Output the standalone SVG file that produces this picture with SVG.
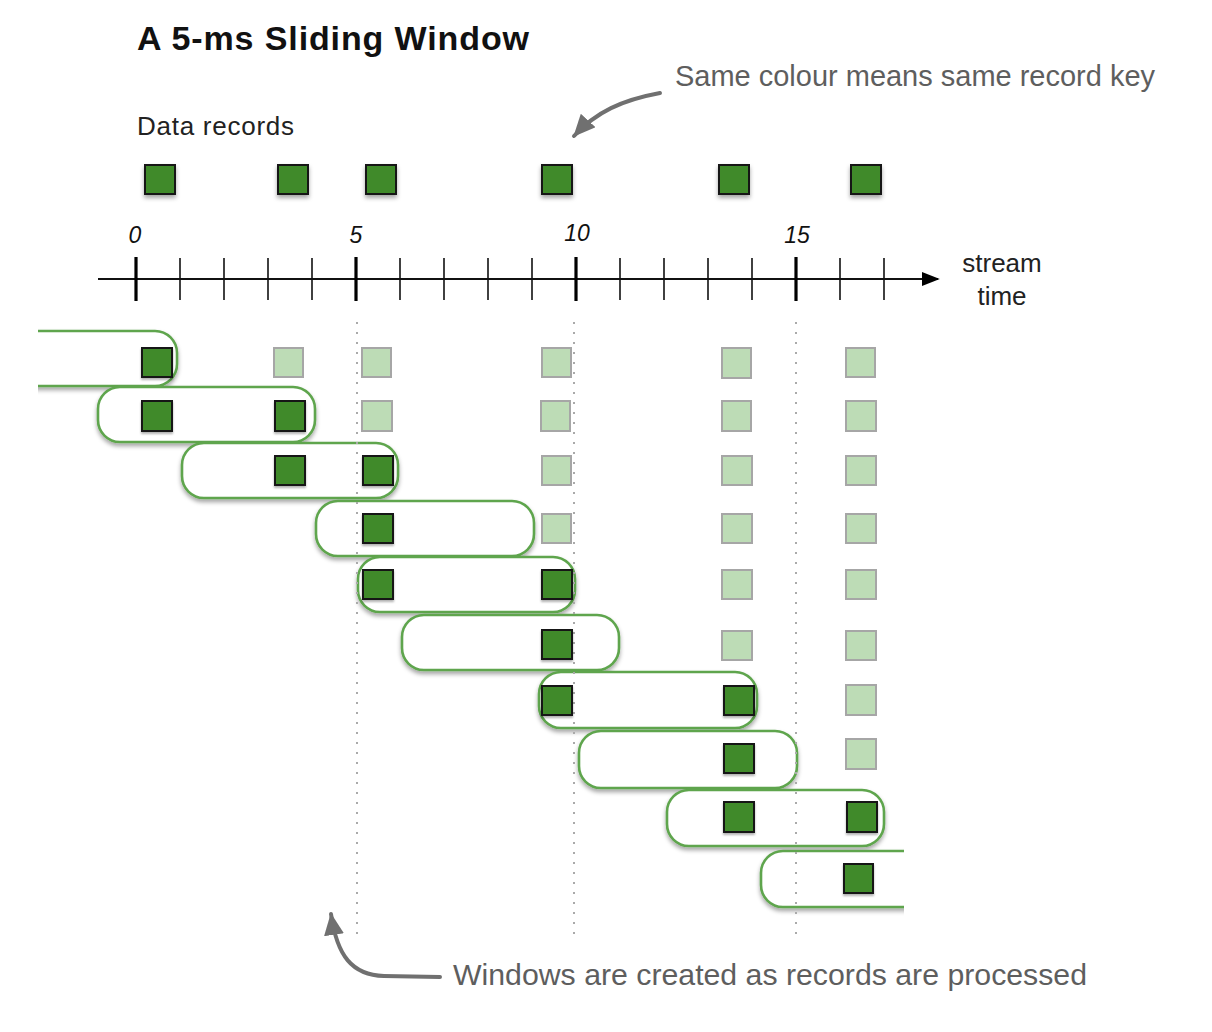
<svg xmlns="http://www.w3.org/2000/svg" width="1212" height="1032" viewBox="0 0 1212 1032">
<style>
.title{font-family:"Liberation Sans",Arial,sans-serif;font-weight:bold;font-size:34px;fill:#111}
.lbl{font-family:"Liberation Sans",Arial,sans-serif;font-size:26px;fill:#222}
.num{font-family:"Liberation Sans",Arial,sans-serif;font-style:italic;font-size:23px;fill:#111;text-anchor:middle}
.hand{font-family:"Liberation Sans",Arial,sans-serif;font-size:30px;fill:#5e5e5e}
.win{fill:#fff;stroke:#5ea54d;stroke-width:2.6}
.rec{fill:#418a29;stroke:#141414;stroke-width:2}
.ghost{fill:#bddcb6;stroke:#a6a6a6;stroke-width:2}
.tick{stroke:#111;stroke-width:1.6}
.major{stroke:#000;stroke-width:3.2}
.dots{stroke:#aaa;stroke-width:2;stroke-dasharray:2 8}
.note{fill:none;stroke:#707070;stroke-width:4;stroke-linecap:round}
</style>
<defs>
<filter id="sh" x="-20%" y="-20%" width="140%" height="160%">
<feDropShadow dx="0" dy="3" stdDeviation="2" flood-color="#000" flood-opacity="0.35"/>
</filter>
<filter id="shs" x="-30%" y="-30%" width="160%" height="180%">
<feDropShadow dx="0" dy="2" stdDeviation="1.2" flood-color="#000" flood-opacity="0.3"/>
</filter>
<marker id="ah" viewBox="0 0 22 20" refX="21" refY="10" markerWidth="22" markerHeight="20" orient="auto" markerUnits="userSpaceOnUse">
<path d="M0,0 L22,10 L0,20 z" fill="#707070"/>
</marker>
<marker id="axh" viewBox="0 0 10 10" refX="9" refY="5" markerWidth="9" markerHeight="9" orient="auto" markerUnits="strokeWidth">
<path d="M0,1 L10,5 L0,9 z" fill="#000"/>
</marker>
<clipPath id="clip"><rect x="38" y="300" width="866" height="660"/></clipPath>
</defs>
<rect width="1212" height="1032" fill="#fff"/>
<text class="title" x="137" y="50" textLength="392">A 5-ms Sliding Window</text>
<text class="lbl" x="137" y="135" textLength="157">Data records</text>
<g id="records" filter="url(#sh)">
<rect class="rec" x="145" y="165" width="30" height="29"/>
<rect class="rec" x="278" y="165" width="30" height="29"/>
<rect class="rec" x="366" y="165" width="30" height="29"/>
<rect class="rec" x="542" y="165" width="30" height="29"/>
<rect class="rec" x="719" y="165" width="30" height="29"/>
<rect class="rec" x="851" y="165" width="30" height="29"/>
</g>
<g id="axis">
<line x1="98" y1="279" x2="938" y2="279" stroke="#111" stroke-width="2" marker-end="url(#axh)"/>
<g class="tick">
<line x1="180" y1="258" x2="180" y2="300"/><line x1="224" y1="258" x2="224" y2="300"/>
<line x1="268" y1="258" x2="268" y2="300"/><line x1="312" y1="258" x2="312" y2="300"/>
<line x1="400" y1="258" x2="400" y2="300"/><line x1="444" y1="258" x2="444" y2="300"/>
<line x1="488" y1="258" x2="488" y2="300"/><line x1="532" y1="258" x2="532" y2="300"/>
<line x1="620" y1="258" x2="620" y2="300"/><line x1="664" y1="258" x2="664" y2="300"/>
<line x1="708" y1="258" x2="708" y2="300"/><line x1="752" y1="258" x2="752" y2="300"/>
<line x1="840" y1="258" x2="840" y2="300"/><line x1="884" y1="258" x2="884" y2="300"/>
</g>
<g class="major">
<line x1="136" y1="257" x2="136" y2="301"/><line x1="356" y1="257" x2="356" y2="301"/>
<line x1="576" y1="257" x2="576" y2="301"/><line x1="796" y1="257" x2="796" y2="301"/>
</g>
<text class="num" x="135" y="243">0</text>
<text class="num" x="356" y="243">5</text>
<text class="num" x="577" y="241">10</text>
<text class="num" x="797" y="243">15</text>
<text class="lbl" x="1002" y="272" text-anchor="middle">stream</text>
<text class="lbl" x="1002" y="305" text-anchor="middle">time</text>
</g>
<g id="windows" clip-path="url(#clip)">
<rect id="w1" class="win" filter="url(#sh)" x="-40" y="331" width="217" height="55" rx="22"/>
<rect id="w2" class="win" filter="url(#sh)" x="98" y="387" width="217" height="55" rx="22"/>
<rect id="w3" class="win" filter="url(#sh)" x="182" y="443" width="216" height="55" rx="22"/>
<rect id="w4" class="win" filter="url(#sh)" x="316" y="501" width="218" height="55" rx="22"/>
<rect id="w5" class="win" filter="url(#sh)" x="358" y="557" width="217" height="55" rx="22"/>
<rect id="w6" class="win" filter="url(#sh)" x="402" y="615" width="217" height="55" rx="22"/>
<rect id="w7" class="win" filter="url(#sh)" x="539" y="672" width="218" height="56" rx="22"/>
<rect id="w8" class="win" filter="url(#sh)" x="579" y="731" width="218" height="57" rx="22"/>
<rect id="w9" class="win" filter="url(#sh)" x="667" y="790" width="217" height="56" rx="22"/>
<rect id="w10" class="win" filter="url(#sh)" x="761" y="851" width="217" height="56" rx="22"/>
</g>
<g id="gridlines" class="dots">
<line x1="357" y1="322" x2="357" y2="935"/>
<line x1="574" y1="322" x2="574" y2="940"/>
<line x1="796" y1="322" x2="796" y2="940"/>
</g>
<g id="ghosts" class="ghost">
<rect x="274" y="348" width="29" height="29"/><rect x="362" y="348" width="29" height="29"/><rect x="542" y="348" width="29" height="29"/><rect x="722" y="348" width="29" height="30"/><rect x="846" y="348" width="29" height="29"/>
<rect x="362" y="401" width="30" height="30"/><rect x="541" y="401" width="29" height="30"/><rect x="722" y="401" width="29" height="30"/><rect x="846" y="401" width="30" height="30"/>
<rect x="542" y="456" width="29" height="29"/><rect x="722" y="456" width="30" height="29"/><rect x="846" y="456" width="30" height="29"/>
<rect x="542" y="514" width="29" height="29"/><rect x="722" y="514" width="30" height="29"/><rect x="846" y="514" width="30" height="29"/>
<rect x="722" y="570" width="30" height="29"/><rect x="846" y="570" width="30" height="29"/>
<rect x="722" y="631" width="30" height="29"/><rect x="846" y="631" width="30" height="29"/>
<rect x="846" y="685" width="30" height="30"/>
<rect x="846" y="739" width="30" height="30"/>
</g>
<g id="inwindow" filter="url(#shs)">
<rect class="rec" x="142" y="348" width="30" height="29"/>
<rect class="rec" x="142" y="401" width="30" height="30"/><rect class="rec" x="275" y="401" width="30" height="30"/>
<rect class="rec" x="275" y="456" width="30" height="29"/><rect class="rec" x="363" y="456" width="30" height="29"/>
<rect class="rec" x="363" y="514" width="30" height="29"/>
<rect class="rec" x="363" y="570" width="30" height="29"/><rect class="rec" x="542" y="570" width="30" height="29"/>
<rect class="rec" x="542" y="630" width="30" height="29"/>
<rect class="rec" x="542" y="686" width="30" height="29"/><rect class="rec" x="724" y="686" width="30" height="29"/>
<rect class="rec" x="724" y="744" width="30" height="29"/>
<rect class="rec" x="724" y="802" width="30" height="30"/><rect class="rec" x="847" y="802" width="30" height="30"/>
<rect class="rec" x="844" y="864" width="29" height="29"/>
</g>
<g id="connectors">
<path class="note" d="M660,93 C622,100 596,112 574,136" marker-end="url(#ah)"/>
<path class="note" d="M440,977 L384,976 C352,975 337,956 331,914" marker-end="url(#ah)"/>
</g>
<g id="notes">
<text class="hand" x="675" y="86" textLength="480" lengthAdjust="spacingAndGlyphs">Same colour means same record key</text>
<text class="hand" x="453" y="985" textLength="634" lengthAdjust="spacingAndGlyphs">Windows are created as records are processed</text>
</g>
</svg>
